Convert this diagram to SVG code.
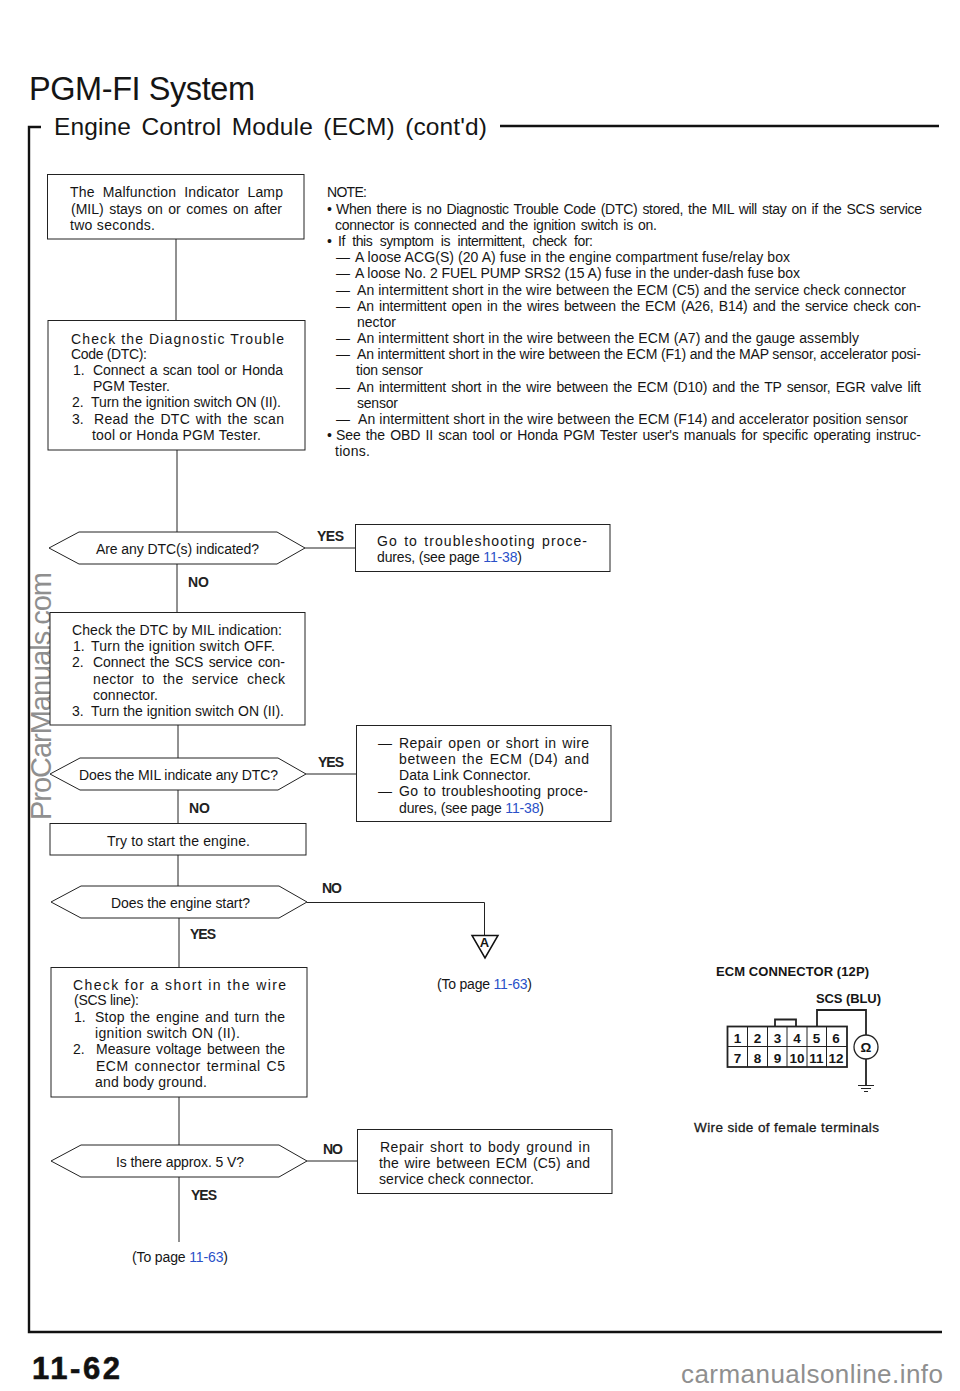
<svg xmlns="http://www.w3.org/2000/svg" width="960" height="1391" viewBox="0 0 960 1391">
<style>
text{font-family:"Liberation Sans",Arial,sans-serif;font-size:14px;fill:#151515}
.b{fill:#fff;stroke:#222;stroke-width:1}
.c{fill:none;stroke:#222;stroke-width:1}
.l{font-weight:700;font-size:14px;fill:#222}
.u{fill:#2a50c8}
.w{fill:#8f8f8f}
.n{font-weight:700;font-size:13.5px;text-anchor:middle}
.f{fill:none;stroke:#111;stroke-width:2.4}
.k{fill:none;stroke:#222;stroke-width:1.8}
.s{word-spacing:1.5px}
.t{word-spacing:4px}
</style>
<rect width="960" height="1391" fill="#fff"/>
<g id="watermarks">
<text class="w" transform="translate(51 820) rotate(-90)" textLength="248" style="font-size:29px">ProCarManuals.com</text>
<text class="w" x="681" y="1383" textLength="262" style="font-size:26px">carmanualsonline.info</text>
</g>
<g id="frame">
<path class="f" d="M41 127H29V1332H942"/>
<path class="f" d="M500 126H939"/>
<text x="29" y="100" textLength="226" style="font-size:32.500px">PGM-FI System</text>
<text x="54" y="135" textLength="433" style="font-size:24.500px;word-spacing:3.500px">Engine Control Module (ECM) (cont'd)</text>
<text x="32" y="1379" textLength="88" style="font-size:31px;font-weight:700;fill:#111;stroke:#111;stroke-width:.6">11-62</text>
</g>
<g id="connectors">
<path class="c" d="M176 239V320M177 450V532M305 548H355M177 564V612M178 725V758M306 774H356M178 790V823M178 855V886M307 902.500H484.500V936M179 918V967M179 1097V1145M307 1161H357M179 1177V1242"/>
<text class="l" x="317" y="541" textLength="27">YES</text>
<text class="l" x="188" y="587" textLength="21">NO</text>
<text class="l" x="318" y="767" textLength="26">YES</text>
<text class="l" x="189" y="813" textLength="21">NO</text>
<text class="l" x="322" y="893" textLength="20">NO</text>
<text class="l" x="190" y="939" textLength="26">YES</text>
<text class="l" x="323" y="1154" textLength="20">NO</text>
<text class="l" x="191" y="1200" textLength="26">YES</text>
</g>
<g id="note">
<text x="327" y="197" textLength="40">NOTE:</text>
<text x="327" y="214">•</text>
<text class="s" x="336" y="214" textLength="586">When there is no Diagnostic Trouble Code (DTC) stored, the MIL will stay on if the SCS service</text>
<text class="s" x="335" y="230" textLength="322">connector is connected and the ignition switch is on.</text>
<text x="327" y="246">•</text>
<text class="t" x="338" y="246" textLength="255">If this symptom is intermittent, check for:</text>
<text x="336" y="262">—</text><text x="355" y="262" textLength="435">A loose ACG(S) (20 A) fuse in the engine compartment fuse/relay box</text>
<text x="336" y="278">—</text><text x="355" y="278" textLength="445">A loose No. 2 FUEL PUMP SRS2 (15 A) fuse in the under-dash fuse box</text>
<text x="336" y="295">—</text><text x="357" y="295" textLength="549">An intermittent short in the wire between the ECM (C5) and the service check connector</text>
<text x="336" y="311">—</text><text class="s" x="357" y="311" textLength="564">An intermittent open in the wires between the ECM (A26, B14) and the service check con-</text>
<text x="357" y="327" textLength="39">nector</text>
<text x="336" y="343">—</text><text x="357" y="343" textLength="502">An intermittent short in the wire between the ECM (A7) and the gauge assembly</text>
<text x="336" y="359">—</text><text x="357" y="359" textLength="564">An intermittent short in the wire between the ECM (F1) and the MAP sensor, accelerator posi-</text>
<text x="356" y="375" textLength="67">tion sensor</text>
<text x="336" y="392">—</text><text class="s" x="357" y="392" textLength="564">An intermittent short in the wire between the ECM (D10) and the TP sensor, EGR valve lift</text>
<text x="357" y="408" textLength="41">sensor</text>
<text x="336" y="424">—</text><text x="358" y="424" textLength="550">An intermittent short in the wire between the ECM (F14) and accelerator position sensor</text>
<text x="327" y="440">•</text>
<text class="s" x="336" y="440" textLength="585">See the OBD II scan tool or Honda PGM Tester user's manuals for specific operating instruc-</text>
<text x="335" y="456" textLength="35">tions.</text>
</g>
<g id="n1">
<rect class="b" x="47.5" y="174.5" width="256.5" height="64.5"/>
<text class="t" x="70" y="197" textLength="213">The Malfunction Indicator Lamp</text>
<text class="s" x="71" y="214" textLength="211">(MIL) stays on or comes on after</text>
<text x="70" y="230" textLength="85">two seconds.</text>
</g>
<g id="n2">
<rect class="b" x="48" y="320.5" width="257" height="129.5"/>
<text x="71" y="344" textLength="213">Check the Diagnostic Trouble</text>
<text x="71" y="359" textLength="76">Code (DTC):</text>
<text x="73" y="375">1.</text><text class="s" x="93" y="375" textLength="190">Connect a scan tool or Honda</text>
<text x="93" y="391" textLength="77">PGM Tester.</text>
<text x="72" y="407">2.</text><text x="91" y="407" textLength="190">Turn the ignition switch ON (II).</text>
<text x="72" y="424">3.</text><text class="s" x="94" y="424" textLength="190">Read the DTC with the scan</text>
<text x="92" y="440" textLength="169">tool or Honda PGM Tester.</text>
</g>
<g id="d1">
<polygon class="b" points="49,548 79,532 277,532 305,548 277,564 79,564"/>
<text x="96" y="554" textLength="163">Are any DTC(s) indicated?</text>
</g>
<g id="n3">
<rect class="b" x="355.5" y="524.5" width="254.5" height="47"/>
<text class="s" x="377" y="546" textLength="210">Go to troubleshooting proce-</text>
<text x="377" y="562" textLength="145">dures, (see page <tspan class="u">11-38</tspan>)</text>
</g>
<g id="n4">
<rect class="b" x="50" y="612.5" width="255" height="112.5"/>
<text x="72" y="635" textLength="210">Check the DTC by MIL indication:</text>
<text x="73" y="651">1.</text><text x="91" y="651" textLength="184">Turn the ignition switch OFF.</text>
<text x="72" y="667">2.</text><text class="s" x="93" y="667" textLength="192">Connect the SCS service con-</text>
<text class="t" x="93" y="684" textLength="192">nector to the service check</text>
<text x="93" y="700" textLength="65">connector.</text>
<text x="72" y="716">3.</text><text x="91" y="716" textLength="193">Turn the ignition switch ON (II).</text>
</g>
<g id="d2">
<polygon class="b" points="50,774 80,758 278,758 306,774 278,790 80,790"/>
<text x="79" y="780" textLength="199">Does the MIL indicate any DTC?</text>
</g>
<g id="n5">
<rect class="b" x="356.5" y="725.5" width="254.5" height="96"/>
<text x="378" y="748">—</text><text class="s" x="399" y="748" textLength="190">Repair open or short in wire</text>
<text class="s" x="399" y="764" textLength="190">between the ECM (D4) and</text>
<text x="399" y="780" textLength="132">Data Link Connector.</text>
<text x="378" y="796">—</text><text class="s" x="399" y="796" textLength="189">Go to troubleshooting proce-</text>
<text x="399" y="813" textLength="145">dures, (see page <tspan class="u">11-38</tspan>)</text>
</g>
<g id="n6">
<rect class="b" x="50" y="823.5" width="256" height="31.5"/>
<text x="107" y="846" textLength="143">Try to start the engine.</text>
</g>
<g id="d3">
<polygon class="b" points="51,902 81,886 279,886 307,902 279,918 81,918"/>
<text x="111" y="908" textLength="139">Does the engine start?</text>
</g>
<g id="a">
<polygon points="472,935.500 498,935.500 485,958" fill="#fff" stroke="#111" stroke-width="1.500"/>
<text x="484.500" y="947" text-anchor="middle" style="font-size:13px;font-weight:700">A</text>
<text x="437" y="989" textLength="95">(To page <tspan class="u">11-63</tspan>)</text>
</g>
<g id="n7">
<rect class="b" x="51" y="967.500" width="256" height="129.500"/>
<text x="73" y="990" textLength="213">Check for a short in the wire</text>
<text x="74" y="1005" textLength="65">(SCS line):</text>
<text x="74" y="1022">1.</text><text class="s" x="95" y="1022" textLength="190">Stop the engine and turn the</text>
<text x="95" y="1038" textLength="145">ignition switch ON (II).</text>
<text x="73" y="1054">2.</text><text class="s" x="96" y="1054" textLength="189">Measure voltage between the</text>
<text class="s" x="96" y="1071" textLength="189">ECM connector terminal C5</text>
<text x="95" y="1087" textLength="112">and body ground.</text>
</g>
<g id="d4">
<polygon class="b" points="51,1161 81,1145 279,1145 307,1161 279,1177 81,1177"/>
<text x="116" y="1167" textLength="128">Is there approx. 5 V?</text>
</g>
<g id="n8">
<rect class="b" x="357.500" y="1129.500" width="254.500" height="64"/>
<text class="s" x="380" y="1152" textLength="210">Repair short to body ground in</text>
<text class="s" x="379" y="1168" textLength="211">the wire between ECM (C5) and</text>
<text x="379" y="1184" textLength="155">service check connector.</text>
</g>
<g id="end">
<text x="132" y="1262" textLength="96">(To page <tspan class="u">11-63</tspan>)</text>
</g>
<g id="ecm-connector">
<text x="716" y="976" textLength="153" style="font-weight:700;font-size:13px">ECM CONNECTOR (12P)</text>
<text x="816" y="1003" textLength="65" style="font-weight:700;font-size:13px">SCS (BLU)</text>
<rect class="k" x="727.500" y="1026.500" width="119.500" height="40.500"/>
<path class="c" d="M727 1046.500H847M747.500 1027V1067M767.500 1027V1067M787 1027V1067M807 1027V1067M826.500 1027V1067"/>
<path class="k" d="M775 1026V1019.500H796V1026M817 1026V1010H866V1035M866 1059V1085"/>
<circle cx="866" cy="1047" r="12" fill="#fff" stroke="#222" stroke-width="1.300"/>
<path class="c" d="M858 1085.500H874M861 1088.500H871M864 1091.500H868"/>
<text class="n" x="737.500" y="1043">1</text><text class="n" x="757.500" y="1043">2</text><text class="n" x="777.500" y="1043">3</text><text class="n" x="797" y="1043">4</text><text class="n" x="816.500" y="1043">5</text><text class="n" x="836" y="1043">6</text>
<text class="n" x="737.500" y="1063">7</text><text class="n" x="757.500" y="1063">8</text><text class="n" x="777.500" y="1063">9</text><text class="n" x="797" y="1063">10</text><text class="n" x="816.500" y="1063">11</text><text class="n" x="836" y="1063">12</text>
<text class="n" x="866" y="1052">Ω</text>
<text x="694" y="1132" textLength="185" style="font-size:13.500px;stroke:#222;stroke-width:.3">Wire side of female terminals</text>
</g>
</svg>
